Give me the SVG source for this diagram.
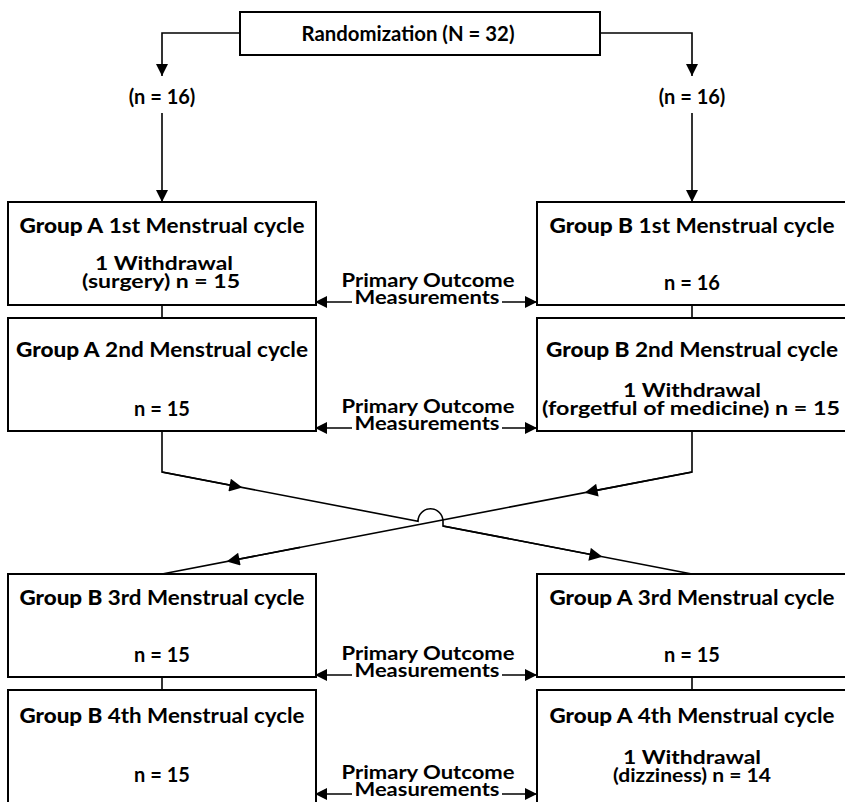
<svg xmlns="http://www.w3.org/2000/svg" width="845" height="802" viewBox="0 0 845 802">
<defs>
<marker id="ah" viewBox="0 0 10 10" refX="10" refY="5" markerWidth="15" markerHeight="12" markerUnits="userSpaceOnUse" orient="auto"><path d="M0,0 L10,5 L0,10 z" fill="#000"/></marker>
<marker id="ahm" viewBox="0 0 10 10" refX="5" refY="5" markerWidth="16" markerHeight="13" markerUnits="userSpaceOnUse" orient="auto"><path d="M0,0 L10,5 L0,10 z" fill="#000"/></marker>
</defs>
<style>
.box{fill:#fff;stroke:#000;stroke-width:2}
.ln{fill:none;stroke:#000;stroke-width:1.6}
text{font-family:"Lato","Liberation Sans",sans-serif;font-size:20px;font-weight:700;fill:#000;text-anchor:middle}
.g{font-weight:900}
.s{font-size:19px}
.po{font-size:18px;font-weight:700}
</style>
<rect width="845" height="802" fill="#fff"/>
<g id="connectors">
<path class="ln" d="M240,33 H162 V76" marker-end="url(#ah)"/>
<path class="ln" d="M600,33 H692 V76" marker-end="url(#ah)"/>
<path class="ln" d="M162,113 V202" marker-end="url(#ah)"/>
<path class="ln" d="M692,113 V202" marker-end="url(#ah)"/>
<path class="ln" d="M162,305 V318"/>
<path class="ln" d="M692,305 V318"/>
<path class="ln" d="M162,677 V690"/>
<path class="ln" d="M692,677 V690"/>
<path class="ln" d="M162,431 V472 L418,521.3 A12.5,12.5 0 0 1 443,521.3 V526 L692,574"/>
<path class="ln" d="M692,431 V472 L162,574"/>
<path class="ln" d="M162,472 L236,486.3" marker-end="url(#ahm)"/>
<path class="ln" d="M692,472 L591,491.4" marker-end="url(#ahm)"/>
<path class="ln" d="M300,547.4 L233,560.3" marker-end="url(#ahm)"/>
<path class="ln" d="M443,526 L596,555.5" marker-end="url(#ahm)"/>
<g id="po-arrows">
<path class="ln" d="M352,302 H315" marker-end="url(#ah)"/>
<path class="ln" d="M502,302 H537" marker-end="url(#ah)"/>
<path class="ln" d="M352,428 H315" marker-end="url(#ah)"/>
<path class="ln" d="M502,428 H537" marker-end="url(#ah)"/>
<path class="ln" d="M352,675 H315" marker-end="url(#ah)"/>
<path class="ln" d="M502,675 H537" marker-end="url(#ah)"/>
<path class="ln" d="M352,794 H315" marker-end="url(#ah)"/>
<path class="ln" d="M502,794 H537" marker-end="url(#ah)"/>
</g>
</g>
<g id="randomization">
<rect class="box" x="240" y="12" width="360" height="43"/>
<text x="408" y="41" textLength="213" lengthAdjust="spacingAndGlyphs">Randomization (N = 32)</text>
</g>
<g id="n16-left"><text x="162" y="104">(n = 16)</text></g>
<g id="n16-right"><text x="692" y="104">(n = 16)</text></g>
<g id="a1">
<rect class="box" x="8" y="202" width="308" height="103"/>
<text x="162" y="233" textLength="285" lengthAdjust="spacingAndGlyphs"><tspan class="g">Group A</tspan> 1st Menstrual cycle</text>
<text class="s" x="164" y="270" textLength="138" lengthAdjust="spacingAndGlyphs">1 Withdrawal</text>
<text class="s" x="161" y="288" textLength="158" lengthAdjust="spacingAndGlyphs">(surgery) n = 15</text>
</g>
<g id="b1">
<rect class="box" x="537" y="202" width="320" height="103"/>
<text x="692" y="233" textLength="285" lengthAdjust="spacingAndGlyphs"><tspan class="g">Group B</tspan> 1st Menstrual cycle</text>
<text x="692" y="290">n = 16</text>
</g>
<g id="a2">
<rect class="box" x="8" y="318" width="308" height="113"/>
<text x="162" y="357" textLength="292" lengthAdjust="spacingAndGlyphs"><tspan class="g">Group A</tspan> 2nd Menstrual cycle</text>
<text x="162" y="416">n = 15</text>
</g>
<g id="b2">
<rect class="box" x="537" y="318" width="320" height="113"/>
<text x="692" y="357" textLength="292" lengthAdjust="spacingAndGlyphs"><tspan class="g">Group B</tspan> 2nd Menstrual cycle</text>
<text class="s" x="692" y="397" textLength="138" lengthAdjust="spacingAndGlyphs">1 Withdrawal</text>
<text class="s" x="691" y="415" textLength="298" lengthAdjust="spacingAndGlyphs">(forgetful of medicine) n = 15</text>
</g>
<g id="b3">
<rect class="box" x="8" y="574" width="308" height="103"/>
<text x="162" y="605" textLength="285" lengthAdjust="spacingAndGlyphs"><tspan class="g">Group B</tspan> 3rd Menstrual cycle</text>
<text x="162" y="662">n = 15</text>
</g>
<g id="a3">
<rect class="box" x="537" y="574" width="320" height="103"/>
<text x="692" y="605" textLength="285" lengthAdjust="spacingAndGlyphs"><tspan class="g">Group A</tspan> 3rd Menstrual cycle</text>
<text x="692" y="662">n = 15</text>
</g>
<g id="b4">
<rect class="box" x="8" y="690" width="308" height="130"/>
<text x="162" y="723" textLength="285" lengthAdjust="spacingAndGlyphs"><tspan class="g">Group B</tspan> 4th Menstrual cycle</text>
<text x="162" y="782">n = 15</text>
</g>
<g id="a4">
<rect class="box" x="537" y="690" width="320" height="130"/>
<text x="692" y="723" textLength="285" lengthAdjust="spacingAndGlyphs"><tspan class="g">Group A</tspan> 4th Menstrual cycle</text>
<text class="s" x="692" y="764" textLength="138" lengthAdjust="spacingAndGlyphs">1 Withdrawal</text>
<text class="s" x="692" y="782" textLength="158" lengthAdjust="spacingAndGlyphs">(dizziness) n = 14</text>
</g>
<g id="po1"><text class="po" x="428" y="287" textLength="173" lengthAdjust="spacingAndGlyphs">Primary Outcome</text><text class="po" x="427" y="304" textLength="145" lengthAdjust="spacingAndGlyphs">Measurements</text></g>
<g id="po2"><text class="po" x="428" y="413" textLength="173" lengthAdjust="spacingAndGlyphs">Primary Outcome</text><text class="po" x="427" y="430" textLength="145" lengthAdjust="spacingAndGlyphs">Measurements</text></g>
<g id="po3"><text class="po" x="428" y="660" textLength="173" lengthAdjust="spacingAndGlyphs">Primary Outcome</text><text class="po" x="427" y="677" textLength="145" lengthAdjust="spacingAndGlyphs">Measurements</text></g>
<g id="po4"><text class="po" x="428" y="779" textLength="173" lengthAdjust="spacingAndGlyphs">Primary Outcome</text><text class="po" x="427" y="796" textLength="145" lengthAdjust="spacingAndGlyphs">Measurements</text></g>
</svg>
